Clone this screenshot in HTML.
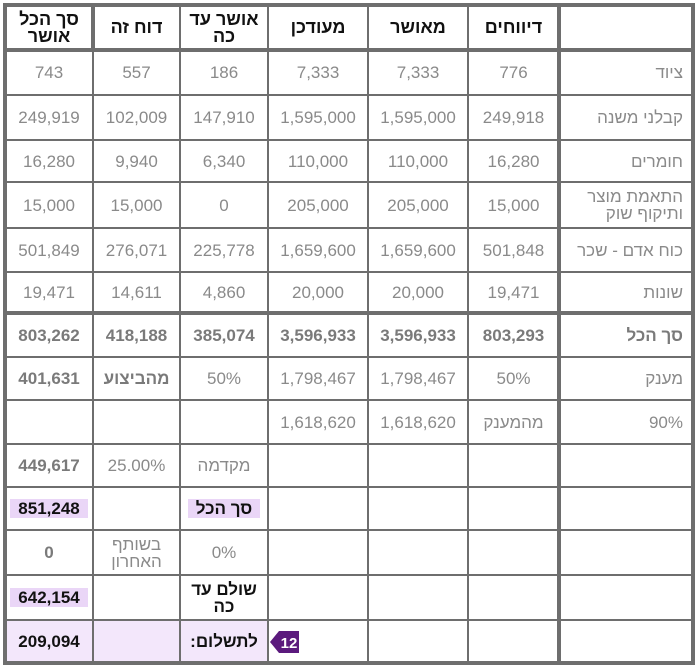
<!DOCTYPE html>
<html><head><meta charset="utf-8"><style>
body{margin:0;background:#fff;width:697px;height:668px;position:relative;overflow:hidden;font-family:"Liberation Sans","Noto Sans CJK JP",sans-serif}
.c{position:absolute;display:flex;align-items:center;justify-content:center;text-align:center;font-size:17px;color:#8a8a8a;direction:rtl;line-height:17px}
.h{color:#111;font-weight:bold;font-size:18px}
.b{font-weight:bold;color:#7a7a7a}
.d{color:#111;font-weight:bold}
.r{justify-content:flex-start;text-align:right;padding-right:8px;box-sizing:border-box}
.l{position:absolute;background:#6e6e6e}
.hl{background:#ead6f7;padding:1px 8px}
.bg{position:absolute;background:#f3e7fb}
</style></head><body>
<div class="bg" style="left:5px;top:620px;width:263px;height:43px"></div>
<div id="g"></div>
<script>
var X=[5,93,180,268,368,468,559,693];
var Y=[5,50,95,140,182,228,272,313,357,400,444,487,530,575,620,663];
var h='';
X.forEach(function(x,i){var w=(i==0||i==7)?4:(i==6?4:2);h+='<div class="l" style="left:'+(x-w/2)+'px;top:'+(Y[0]-2)+'px;width:'+w+'px;height:'+(Y[15]-Y[0]+4)+'px"></div>';});
h+='<div class="l" style="left:91px;top:5px;width:4px;height:45px"></div>';
Y.forEach(function(y,i){var w=(i==0||i==1||i==7||i==15)?4:2;h+='<div class="l" style="left:3px;top:'+(y-w/2)+'px;width:692px;height:'+w+'px"></div>';});
document.getElementById('g').innerHTML=h;
</script>
<div id="t"></div>
<script>
var X=[5,93,180,268,368,468,559,693];
var Y=[5,50,95,140,182,228,272,313,357,400,444,487,530,575,620,663];
var rows=[
[['סך הכל<br>אושר','h'],['דוח זה','h'],['אושר עד<br>כה','h'],['מעודכן','h'],['מאושר','h'],['דיווחים','h'],['','']],
[['743'],['557'],['186'],['7,333'],['7,333'],['776'],['ציוד','r']],
[['249,919'],['102,009'],['147,910'],['1,595,000'],['1,595,000'],['249,918'],['קבלני משנה','r']],
[['16,280'],['9,940'],['6,340'],['110,000'],['110,000'],['16,280'],['חומרים','r']],
[['15,000'],['15,000'],['0'],['205,000'],['205,000'],['15,000'],['התאמת מוצר<br>ותיקוף שוק','r']],
[['501,849'],['276,071'],['225,778'],['1,659,600'],['1,659,600'],['501,848'],['כוח אדם - שכר','r']],
[['19,471'],['14,611'],['4,860'],['20,000'],['20,000'],['19,471'],['שונות','r']],
[['803,262','b'],['418,188','b'],['385,074','b'],['3,596,933','b'],['3,596,933','b'],['803,293','b'],['סך הכל','r b']],
[['401,631','b'],['מהביצוע','b'],['50%'],['1,798,467'],['1,798,467'],['50%'],['מענק','r']],
[[''],[''],[''],['1,618,620'],['1,618,620'],['מהמענק'],['90%','r']],
[['449,617','b'],['25.00%'],['מקדמה'],[''],[''],[''],['']],
[['<span class="hl">851,248</span>','d'],[''],['<span class="hl">סך הכל</span>','d'],[''],[''],[''],['']],
[['0','b'],['בשותף<br>האחרון'],['0%'],[''],[''],[''],['']],
[['<span class="hl">642,154</span>','d'],[''],['שולם עד<br>כה','d'],[''],[''],[''],['']],
[['209,094','d'],[''],['לתשלום:','d'],[''],[''],[''],['']]
];
var h='';
rows.forEach(function(r,i){r.forEach(function(c,j){if(!c[0])return;h+='<div class="c '+(c[1]||'')+'" style="left:'+(X[j]+2)+'px;top:'+(Y[i]+2)+'px;width:'+(X[j+1]-X[j]-4)+'px;height:'+(Y[i+1]-Y[i]-4)+'px">'+c[0]+'</div>';});});
h+='<svg style="position:absolute;left:270px;top:629px" width="30" height="26"><polygon points="0,13 9,2 29,2 29,24 9,24" fill="#5b1a7d"/><text x="19" y="19" font-size="15" font-weight="bold" fill="#fff" text-anchor="middle" font-family="Liberation Sans">12</text></svg>';
document.getElementById('t').innerHTML=h;
</script>
</body></html>
